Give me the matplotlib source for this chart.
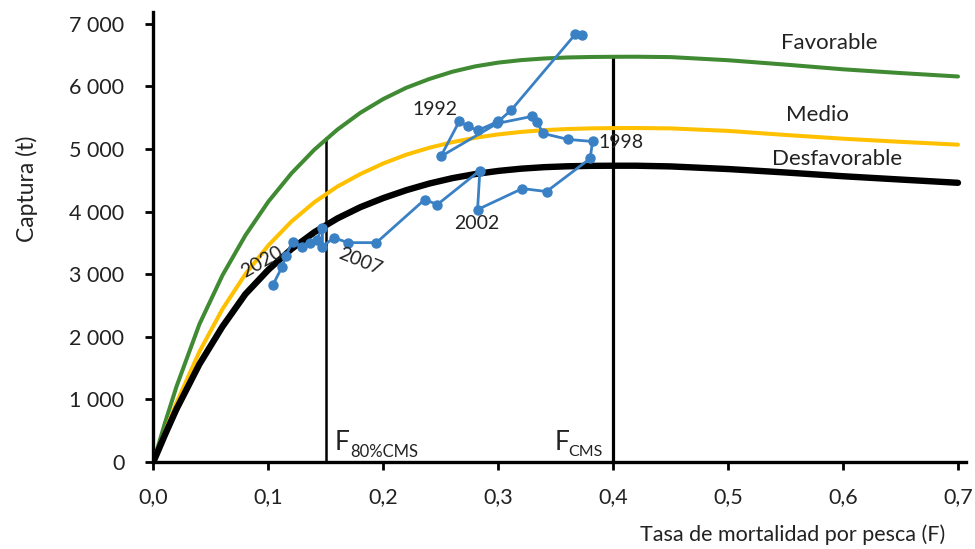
import matplotlib
matplotlib.use("Agg")
import matplotlib.pyplot as plt

# Fishing mortality grid for the three yield curves
f_grid = [0.0, 0.01, 0.02, 0.04, 0.06, 0.08, 0.10, 0.12, 0.14, 0.16, 0.18,
          0.20, 0.22, 0.24, 0.26, 0.28, 0.30, 0.32, 0.34, 0.36, 0.38, 0.40,
          0.42, 0.45, 0.50, 0.55, 0.60, 0.65, 0.70]
catch_favorable = [0, 620, 1200, 2200, 2980, 3620, 4160, 4610, 4990, 5310, 5580,
                   5800, 5980, 6120, 6236, 6322, 6382, 6422, 6448, 6464, 6472, 6475,
                   6476, 6470, 6420, 6350, 6275, 6215, 6160]
catch_medio = [0, 480, 940, 1760, 2440, 3000, 3460, 3840, 4150, 4400, 4600,
               4770, 4910, 5020, 5110, 5180, 5234, 5274, 5302, 5320, 5330, 5335,
               5336, 5330, 5290, 5225, 5165, 5115, 5070]
catch_desfav = [0, 430, 840, 1560, 2160, 2680, 3070, 3400, 3670, 3890, 4070,
                4216, 4342, 4448, 4534, 4600, 4650, 4686, 4710, 4724, 4731, 4733,
                4733, 4722, 4680, 4625, 4565, 4512, 4460]

# Observed trajectory (F, catch)
traj_f = [0.373, 0.367, 0.311, 0.300, 0.282, 0.274, 0.266, 0.250, 0.299,
          0.329, 0.334, 0.339, 0.361, 0.382, 0.380, 0.342, 0.321, 0.282,
          0.284, 0.247, 0.236, 0.194, 0.169, 0.157, 0.147, 0.147, 0.142,
          0.136, 0.129, 0.121, 0.115, 0.112, 0.104]
traj_c = [6820, 6835, 5617, 5441, 5297, 5361, 5441, 4881, 5409,
          5521, 5425, 5249, 5153, 5121, 4849, 4320, 4368, 4032,
          4656, 4112, 4192, 3503, 3503, 3583, 3439, 3743, 3551,
          3503, 3439, 3519, 3290, 3119, 2830]

year_labels = ["1992", "1998", "2002", "2007", "2020"]
year_pos = [(0.245, 5633), (0.387, 5104), (0.281, 3804), (0.180, 3211), (0.094, 3200)]
year_rot = [0, 0, 0, -22, 30]

scenario_labels = ["Favorable", "Medio", "Desfavorable"]
scenario_pos = [(0.588, 6691), (0.578, 5537), (0.595, 4833)]

f_80 = 0.15
f_cms = 0.40

x_ticks = [0.0, 0.1, 0.2, 0.3, 0.4, 0.5, 0.6, 0.7]
x_ticklabels = ["0,0", "0,1", "0,2", "0,3", "0,4", "0,5", "0,6", "0,7"]
y_ticks = [0, 1000, 2000, 3000, 4000, 5000, 6000, 7000]
y_ticklabels = ["0", "1 000", "2 000", "3 000", "4 000", "5 000", "6 000", "7 000"]

plt.rcParams["font.family"] = ["Lato", "DejaVu Sans"]
TXT = "#222222"

fig = plt.figure(figsize=(9.75, 5.49), dpi=100)
ax = fig.add_axes([0.1574, 0.159, 0.8334, 0.819])

GREEN = "#3f8a32"
YELLOW = "#ffc000"
BLUE = "#3a80c4"

# reference lines stop at the favourable curve
ax.vlines(f_80, 0, 5190, color="black", lw=1.8, zorder=2)
ax.vlines(f_cms, 0, 6480, color="black", lw=2.3, zorder=2)

style = dict(solid_capstyle="round", solid_joinstyle="round")
ax.plot(f_grid, catch_favorable, color=GREEN, lw=2.9, zorder=3, **style)
ax.plot(f_grid, catch_medio, color=YELLOW, lw=2.9, zorder=3, **style)
ax.plot(f_grid, catch_desfav, color="black", lw=4.6, zorder=4, **style)

ax.plot(traj_f, traj_c, "-o", color=BLUE, lw=2.0, markersize=6.5, zorder=5)

for lab, (x, y), rot in zip(year_labels, year_pos, year_rot):
    ha = "left" if lab == "1998" else "center"
    ax.text(x, y, lab, fontsize=14, ha=ha, va="center", rotation=rot, color=TXT, zorder=6)

for lab, (x, y) in zip(scenario_labels, scenario_pos):
    ax.text(x, y, lab, fontsize=16, ha="center", va="center", color=TXT)

# F reference labels with subscripts
ax.text(0.158, 300, "F", fontsize=19, ha="left", va="center", color=TXT)
ax.text(0.171, 150, "80%CMS", fontsize=12, ha="left", va="center", color=TXT)
ax.text(0.349, 300, "F", fontsize=19, ha="left", va="center", color=TXT)
ax.text(0.361, 150, "CMS", fontsize=11.5, ha="left", va="center", color=TXT)

ax.set_xlim(0, 0.707)
ax.set_ylim(0, 7190)
ax.set_xticks(x_ticks)
ax.set_xticklabels(x_ticklabels)
ax.set_yticks(y_ticks)
ax.set_yticklabels(y_ticklabels)
ax.tick_params(labelsize=15.5, width=2, length=6, colors="black", labelcolor=TXT)
ax.tick_params(axis="y", pad=15)
ax.tick_params(axis="x", pad=12)

for side in ["top", "right"]:
    ax.spines[side].set_visible(False)
for side in ["left", "bottom"]:
    ax.spines[side].set_linewidth(2.4)

fig.text(27 / 975, 1 - 189 / 549, "Captura (t)", fontsize=16.5, rotation=90,
         ha="center", va="center", color=TXT)
fig.text(945 / 975, 1 - 535 / 549, "Tasa de mortalidad por pesca (F)", fontsize=15.5,
         ha="right", va="center", color=TXT)

fig.savefig("out.png", dpi=100)
